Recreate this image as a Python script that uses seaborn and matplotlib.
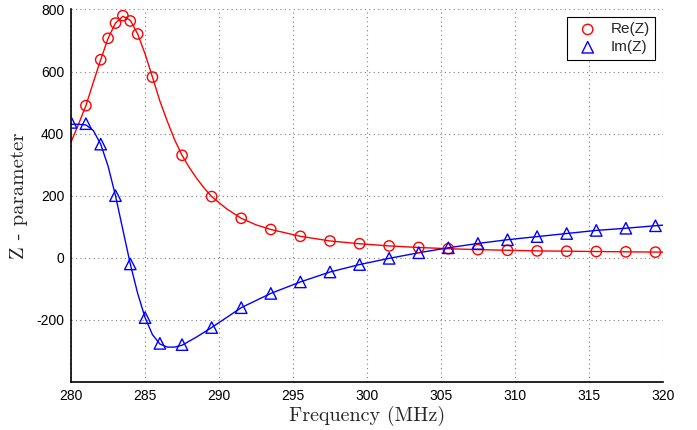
import matplotlib
matplotlib.use("Agg")
import matplotlib.pyplot as plt
import seaborn as sns

# marker positions
re_freq = [281, 282, 282.5, 283, 283.5, 284, 284.5, 285.5, 287.5, 289.5, 291.5, 293.5,
           295.5, 297.5, 299.5, 301.5, 303.5, 305.5, 307.5, 309.5, 311.5, 313.5, 315.5,
           317.5, 319.5]
re_val = [490, 638, 707, 756, 780, 763, 721, 582, 330, 197, 127, 91,
          69, 54, 45, 38, 33, 29, 26, 24, 22, 21, 20, 19, 18]

im_freq = [280, 281, 282, 283, 284, 285, 286, 287.5, 289.5, 291.5, 293.5, 295.5,
           297.5, 299.5, 301.5, 303.5, 305.5, 307.5, 309.5, 311.5, 313.5, 315.5,
           317.5, 319.5]
im_val = [436, 432, 366, 200, -20, -193, -276, -280, -225, -161, -115, -78,
          -46, -22, -2, 16, 32, 46, 58, 68, 78, 88, 95, 103]

# fitted curves
re_line_freq = [280, 280.5, 281, 281.5, 282, 282.5, 283, 283.5, 284, 284.5, 285, 285.5,
                286, 286.5, 287, 287.5, 288, 288.5, 289, 289.5, 290.5, 291.5, 292.5,
                293.5, 295.5, 297.5, 299.5, 301.5, 303.5, 305.5, 307.5, 309.5, 311.5,
                313.5, 315.5, 317.5, 320]
re_line_val = [373, 430, 490, 565, 638, 707, 756, 778, 765, 721, 657, 582,
               505, 440, 380, 330, 290, 255, 224, 197, 158, 127, 106,
               91, 69, 54, 45, 38, 33, 29, 26, 24, 22, 21, 20, 19, 18]

im_line_freq = [280, 280.5, 281, 281.5, 282, 282.5, 283, 283.5, 284, 284.5, 285, 285.5,
                286, 286.5, 287, 287.5, 288.5, 289.5, 291.5, 293.5, 295.5, 297.5,
                299.5, 301.5, 303.5, 305.5, 307.5, 309.5, 311.5, 313.5, 315.5, 317.5, 320]
im_line_val = [430, 430, 428, 410, 366, 295, 200, 90, -20, -115, -193, -248,
               -278, -288, -288, -282, -255, -225, -161, -115, -78, -46,
               -22, -2, 16, 32, 46, 58, 68, 78, 88, 95, 105]

x_ticks = [280, 285, 290, 295, 300, 305, 310, 315, 320]
y_ticks = [-200, 0, 200, 400, 600, 800]

sns.set_style("white")
plt.rcParams["font.family"] = ["Liberation Sans", "DejaVu Sans"]
plt.rcParams["axes.unicode_minus"] = False

fig = plt.figure(figsize=(6.97, 4.30), dpi=100)
ax = fig.add_axes([0.102, 0.112, 0.849, 0.866])

sns.lineplot(x=re_line_freq, y=re_line_val, color="red", lw=1.0, ax=ax, sort=False)
sns.lineplot(x=im_line_freq, y=im_line_val, color="blue", lw=1.0, ax=ax, sort=False)

sns.scatterplot(x=re_freq, y=re_val, marker="o", s=55, facecolors="none",
                edgecolor="red", linewidth=1.0, label="Re(Z)", ax=ax, zorder=3)
sns.scatterplot(x=im_freq, y=im_val, marker="^", s=68, facecolors="none",
                edgecolor="blue", linewidth=1.0, label="Im(Z)", ax=ax, zorder=3)

ax.set_xlim(280, 320)
ax.set_ylim(-400, 800)
ax.set_xticks(x_ticks)
ax.set_yticks(y_ticks)
ax.tick_params(direction="in", length=4, width=0.8, colors="black", labelsize=10,
               pad=5, top=False, right=False)
ax.grid(True, color="#808080", linestyle=(0, (1, 3)), linewidth=0.8)

for side in ["top", "right"]:
    ax.spines[side].set_visible(False)
for side in ["left", "bottom"]:
    ax.spines[side].set_color("black")
    ax.spines[side].set_linewidth(1.2)

ax.set_xlabel("Frequency (MHz)", family="cmr10", fontsize=14.5, labelpad=2)
ax.set_ylabel("Z - parameter", family="cmr10", fontsize=15, labelpad=6)

leg = ax.legend(loc="upper right", fontsize=11, frameon=True, fancybox=False,
                edgecolor="black", borderaxespad=0.5, handletextpad=0.5,
                borderpad=0.35, labelspacing=0.25, framealpha=1)
leg.get_frame().set_linewidth(0.8)

fig.savefig("out.png", dpi=100)
